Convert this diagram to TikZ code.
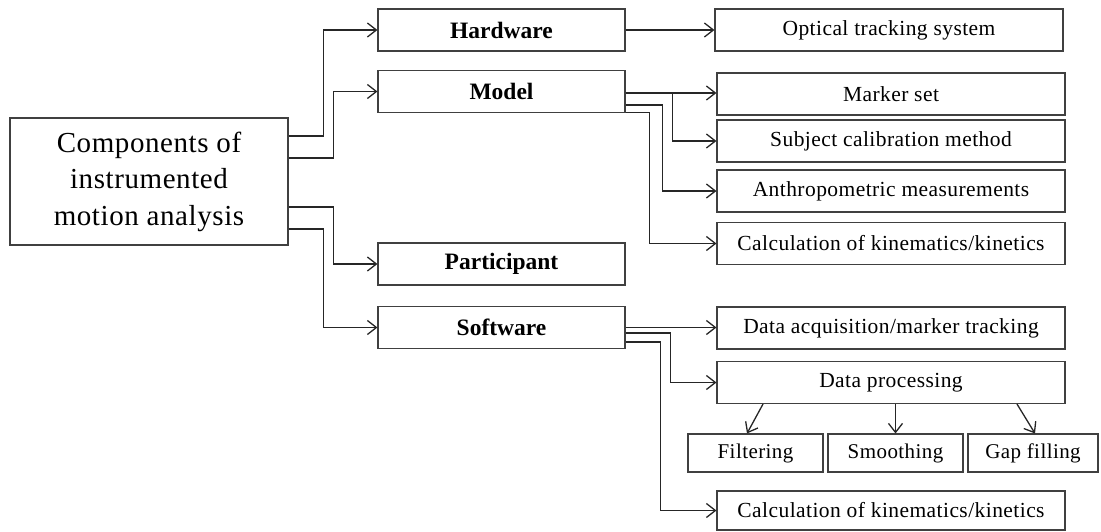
\documentclass[tikz,border=0pt]{standalone}
\usepackage{fontspec}
\setmainfont{Liberation Serif}
\newfontfamily\spacedserif[LetterSpace=2]{Liberation Serif}
\usetikzlibrary{arrows.meta}
\begin{document}
\begin{tikzpicture}[x=1pt,y=-1pt,
  box/.style={draw=black!75,line width=1.1pt,fill=white,rectangle,inner sep=0pt,align=center},
  bigbox/.style={box,minimum width=278pt,minimum height=127pt,font=\spacedserif\fontsize{29}{36.5}\selectfont},
  midbox/.style={box,minimum width=247pt,minimum height=42pt,font=\fontsize{23.5}{26}\selectfont\bfseries},
  rbox/.style={box,minimum width=348pt,minimum height=42pt,font=\spacedserif\fontsize{21.5}{24}\selectfont},
  sbox/.style={box,minimum height=38pt,font=\spacedserif\fontsize{21}{24}\selectfont},
  conn/.style={draw=black!85,line width=1.3pt,-{Straight Barb[length=9pt,width=14pt,line width=1.3pt]}}
]
\useasboundingbox (0,0) rectangle (1101,531);
% nodes
\node[bigbox] (main) at (149,181.5) {Components of\\instrumented\\motion analysis};
\node[midbox] (hw) at (501.5,30) {Hardware};
\node[midbox] (model) at (501.5,91.5) {Model};
\node[midbox] (part) at (501.5,264) {Participant};
\node[midbox] (soft) at (501.5,327.5) {Software};
\node[rbox] (optical) at (889,30) {Optical tracking system};
\node[rbox] (marker) at (891,94) {Marker set};
\node[rbox] (subject) at (891,141) {Subject calibration method};
\node[rbox] (anthro) at (891,191) {Anthropometric measurements};
\node[rbox] (calc1) at (891,243.5) {Calculation of kinematics/kinetics};
\node[rbox] (dacq) at (891,328) {Data acquisition/marker tracking};
\node[rbox] (dproc) at (891,382.5) {Data processing};
\node[sbox,minimum width=135pt] (filt) at (755.5,453) {Filtering};
\node[sbox,minimum width=135pt] (smooth) at (895.5,453) {Smoothing};
\node[sbox,minimum width=130pt] (gap) at (1033,453) {Gap filling};
\node[rbox,minimum height=39pt] (calc2) at (891,510.5) {Calculation of kinematics/kinetics};
% connectors from main
\draw[conn] ([yshift=45.5]main.east) -- ++(35,0) |- (hw.west);
\draw[conn] ([yshift=23.5]main.east) -- ++(45,0) |- (model.west);
\draw[conn] ([yshift=-25.5]main.east) -- ++(45,0) |- (part.west);
\draw[conn] ([yshift=-47.5]main.east) -- ++(35,0) |- (soft.west);
% hardware
\draw[conn] (hw.east) -- (hw.east -| optical.west);
% model
\draw[conn] ([yshift=-1.5]model.east) -- ([yshift=-1.5]model.east -| marker.west);
\draw[conn] ([yshift=-1.5]model.east) -- ++(47,0) |- (subject.west);
\draw[conn] ([yshift=-13.5]model.east) -- ++(37,0) |- (anthro.west);
\draw[conn] ([yshift=-21]model.east) -- ++(24,0) |- (calc1.west);
% software
\draw[conn] (soft.east) -- (soft.east -| dacq.west);
\draw[conn] ([yshift=-5.5]soft.east) -- ++(45,0) |- (dproc.west);
\draw[conn] ([yshift=-14.5]soft.east) -- ++(35,0) |- (calc2.west);
% data processing
\draw[conn] ([xshift=-128]dproc.south) -- ([xshift=-8.5]filt.north);
\draw[conn] (smooth.north |- dproc.south) -- (smooth.north);
\draw[conn] ([xshift=126]dproc.south) -- ([xshift=2]gap.north);
\end{tikzpicture}
\end{document}
